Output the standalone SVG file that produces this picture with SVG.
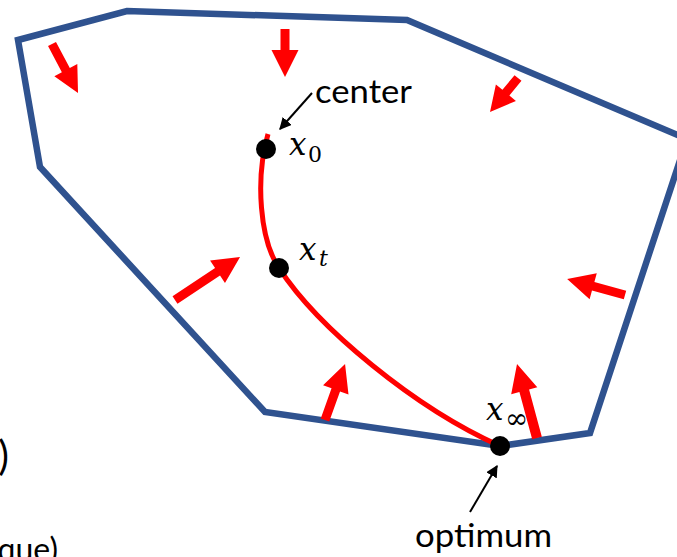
<svg xmlns="http://www.w3.org/2000/svg" width="677" height="557" viewBox="0 0 677 557">
  <style>
    .region { fill: none; stroke: #2F528F; stroke-width: 6.5; stroke-linejoin: miter; }
    .ra { fill: #FF0000; }
    .path { fill: none; stroke: #FF0000; stroke-width: 5; }
    .dot { fill: #000000; }
    .lbl { font-family: Lato, "Liberation Sans", sans-serif; font-size: 32px; fill: #000000; }
    .mx { font-family: "DejaVu Serif", "Liberation Serif", serif; font-style: italic; font-size: 31px; fill: #000000; }
    .sub { font-family: "DejaVu Serif", "Liberation Serif", serif; font-size: 22px; fill: #000000; }
    .ann { stroke: #000000; stroke-width: 2; fill: none; }
  </style>
  <defs>
    <marker id="ah" viewBox="0 0 10 10" refX="9" refY="5" markerWidth="6" markerHeight="6" orient="auto" markerUnits="strokeWidth">
      <path d="M0,0 L10,5 L0,10 Z" fill="#000000"/>
    </marker>
  </defs>

  <rect width="677" height="557" fill="#FFFFFF"/>

  <g id="feasible-region">
    <polygon class="region" points="18,40 127,11 407,20 687,139 590,433 500,446 265,412 40,167"/>
  </g>

  <g id="red-arrows">
    <g transform="translate(52,44) rotate(62.05)"><path class="ra" d="M0,-4.5 H29.5 V-13 L55.5,0 L29.5,13 V4.5 H0 Z"/></g>
    <g transform="translate(285,29) rotate(90)"><path class="ra" d="M0,-4.5 H21 V-13.5 L48,0 L21,13.5 V4.5 H0 Z"/></g>
    <g transform="translate(518,78) rotate(129.5)"><path class="ra" d="M0,-4.5 H19 V-13 L44,0 L19,13 V4.5 H0 Z"/></g>
    <g transform="translate(175,300) rotate(-33.5)"><path class="ra" d="M0,-4.5 H51 V-13.5 L78,0 L51,13.5 V4.5 H0 Z"/></g>
    <g transform="translate(625,295) rotate(-164.6)"><path class="ra" d="M0,-4.5 H33 V-13.5 L60,0 L33,13.5 V4.5 H0 Z"/></g>
    <g transform="translate(325,420) rotate(-70.3)"><path class="ra" d="M0,-4.5 H32 V-13.5 L59.5,0 L32,13.5 V4.5 H0 Z"/></g>
    <g transform="translate(537,438) rotate(-105.1)"><path class="ra" d="M0,-5 H49 V-13.5 L76.7,0 L49,13.5 V5 H0 Z"/></g>
  </g>

  <g id="central-path">
    <path class="path" d="M268,134 C255,180 260,240 279,268 C318,328 415,408 500,446"/>
  </g>

  <g id="x0">
    <circle class="dot" cx="266" cy="149" r="10"/>
    <text class="mx" x="289" y="155">x</text>
    <text class="sub" x="308" y="162">0</text>
  </g>

  <g id="xt">
    <circle class="dot" cx="279" cy="268" r="10"/>
    <text class="mx" x="299" y="260">x</text>
    <text class="sub" x="319" y="266" style="font-style:italic">t</text>
  </g>

  <g id="xinf">
    <circle class="dot" cx="500" cy="446" r="10"/>
    <text class="mx" x="486" y="420">x</text>
    <text class="sub" x="505" y="428" style="font-size:28px">∞</text>
  </g>

  <g id="center-label">
    <text class="lbl" x="315" y="103" textLength="97" lengthAdjust="spacingAndGlyphs">center</text>
  </g>

  <g id="optimum-label">
    <text class="lbl" x="415" y="547" textLength="137" lengthAdjust="spacingAndGlyphs">optimum</text>
  </g>

  <g id="connectors">
    <line class="ann" x1="312" y1="93" x2="280" y2="129" marker-end="url(#ah)"/>
    <line class="ann" x1="470" y1="512" x2="497" y2="466" marker-end="url(#ah)"/>
  </g>

  <g id="cut-text">
    <text class="lbl" x="9" y="470" text-anchor="end" style="font-size:40px">)</text>
    <text class="lbl" x="58" y="561" text-anchor="end">que)</text>
  </g>
</svg>
